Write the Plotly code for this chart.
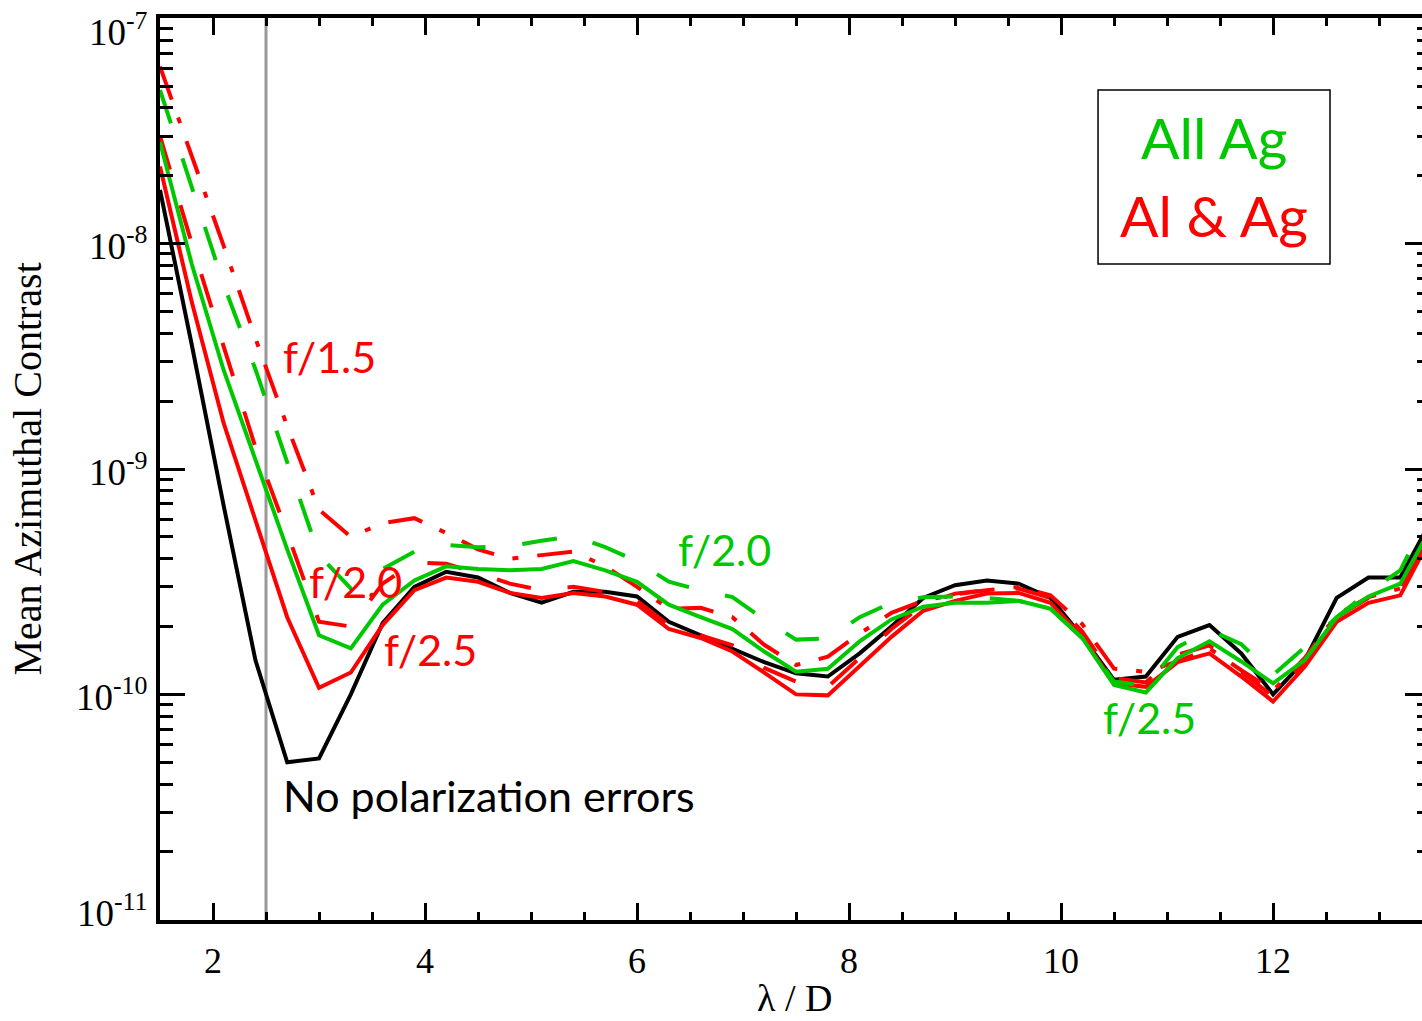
import plotly.graph_objects as go

# ---------------- data ----------------
lam_d = [1.5, 1.8, 2.1, 2.4, 2.7, 3.0, 3.3, 3.6, 3.9, 4.2,
         4.5, 4.8, 5.1, 5.4, 5.7, 6.0, 6.3, 6.6, 6.9, 7.2,
         7.5, 7.8, 8.1, 8.4, 8.7, 9.0, 9.3, 9.6, 9.9, 10.2,
         10.5, 10.8, 11.1, 11.4, 11.7, 12.0, 12.3, 12.6, 12.9, 13.2, 13.5]

no_pol = [1.73e-8, 3.55e-9, 6.9e-10, 1.42e-10, 5.0e-11, 5.2e-11, 1.0e-10, 2.07e-10, 3.0e-10, 3.5e-10,
          3.3e-10, 2.82e-10, 2.55e-10, 2.85e-10, 2.85e-10, 2.72e-10, 2.1e-10, 1.83e-10, 1.58e-10, 1.39e-10,
          1.24e-10, 1.2e-10, 1.52e-10, 2.0e-10, 2.68e-10, 3.05e-10, 3.2e-10, 3.1e-10, 2.68e-10, 1.8e-10,
          1.16e-10, 1.2e-10, 1.8e-10, 2.03e-10, 1.52e-10, 1.0e-10, 1.42e-10, 2.68e-10, 3.3e-10, 3.3e-10, 6.0e-10]

alag_f25 = [2.2e-8, 5.5e-9, 1.6e-9, 5.9e-10, 2.2e-10, 1.07e-10, 1.25e-10, 2.03e-10, 2.9e-10, 3.3e-10,
            3.16e-10, 2.82e-10, 2.68e-10, 2.82e-10, 2.72e-10, 2.5e-10, 1.95e-10, 1.78e-10, 1.55e-10, 1.25e-10,
            1.0e-10, 9.9e-11, 1.33e-10, 1.8e-10, 2.35e-10, 2.6e-10, 2.8e-10, 2.82e-10, 2.55e-10, 1.8e-10,
            1.12e-10, 1.08e-10, 1.39e-10, 1.52e-10, 1.2e-10, 9.3e-11, 1.33e-10, 2.1e-10, 2.55e-10, 2.75e-10, 5.1e-10]

alag_f20 = [3.0e-8, 1.0e-8, 3.5e-9, 1.25e-9, 5.2e-10, 2.1e-10, 2.0e-10, 3.1e-10, 3.85e-10, 3.8e-10,
            3.45e-10, 3.1e-10, 2.9e-10, 3.0e-10, 2.85e-10, 2.6e-10, 2.03e-10, 1.83e-10, 1.65e-10, 1.31e-10,
            1.14e-10, 1.08e-10, 1.45e-10, 1.95e-10, 2.5e-10, 2.8e-10, 2.9e-10, 2.95e-10, 2.68e-10, 1.9e-10,
            1.18e-10, 1.13e-10, 1.5e-10, 1.65e-10, 1.26e-10, 9.8e-11, 1.4e-10, 2.2e-10, 2.68e-10, 2.9e-10, 5.4e-10]

alag_f15 = [6.1e-8, 2.45e-8, 9.8e-9, 3.8e-9, 1.55e-9, 6.6e-10, 5.0e-10, 5.75e-10, 6.05e-10, 5.2e-10,
            4.4e-10, 4.0e-10, 4.15e-10, 4.3e-10, 3.7e-10, 3.0e-10, 2.4e-10, 2.42e-10, 2.2e-10, 1.66e-10,
            1.35e-10, 1.47e-10, 1.86e-10, 2.3e-10, 2.6e-10, 2.78e-10, 2.9e-10, 3.0e-10, 2.75e-10, 2.05e-10,
            1.3e-10, 1.26e-10, 1.4e-10, 1.6e-10, 1.28e-10, 1.04e-10, 1.45e-10, 2.25e-10, 2.7e-10, 2.95e-10, 5.5e-10]

allag_f25 = [2.82e-8, 8.1e-9, 2.75e-9, 1.1e-9, 4.4e-10, 1.83e-10, 1.6e-10, 2.5e-10, 3.2e-10, 3.7e-10,
             3.6e-10, 3.55e-10, 3.6e-10, 3.9e-10, 3.55e-10, 3.16e-10, 2.5e-10, 2.2e-10, 1.95e-10, 1.55e-10,
             1.26e-10, 1.3e-10, 1.72e-10, 2.15e-10, 2.45e-10, 2.55e-10, 2.55e-10, 2.6e-10, 2.4e-10, 1.78e-10,
             1.1e-10, 1.02e-10, 1.45e-10, 1.72e-10, 1.4e-10, 1.12e-10, 1.42e-10, 2.2e-10, 2.72e-10, 3.1e-10, 5.6e-10]

allag_f20 = [4.8e-8, 1.78e-8, 6.6e-9, 2.77e-9, 1.07e-9, 4.15e-10, 2.95e-10, 3.6e-10, 4.3e-10, 4.6e-10,
             4.5e-10, 4.55e-10, 4.8e-10, 5.05e-10, 4.5e-10, 3.9e-10, 3.16e-10, 2.9e-10, 2.7e-10, 2.15e-10,
             1.75e-10, 1.77e-10, 2.2e-10, 2.55e-10, 2.7e-10, 2.72e-10, 2.68e-10, 2.6e-10, 2.4e-10, 1.78e-10,
             1.14e-10, 1.09e-10, 1.62e-10, 1.93e-10, 1.67e-10, 1.22e-10, 1.62e-10, 2.2e-10, 2.85e-10, 3.55e-10, 6.8e-10]

iwa = 2.5  # inner working angle marker (lambda/D)

y_tick_exponents = [-11, -10, -9, -8, -7]
y_tick_labels = ["10<sup>-11</sup>", "10<sup>-10</sup>", "10<sup>-9</sup>", "10<sup>-8</sup>", "10<sup>-7</sup>"]

x_range = [1.5, 13.405]
y_range_log = [-11.001, -6.999]

# ---------------- styles ----------------
RED = "rgb(255,0,0)"
GREEN = "rgb(0,200,0)"
BLACK = "rgb(0,0,0)"
LW = 4
DASHED = "35px,37px"
DASHDOT = "35px,19px,6px,19px"

fig = go.Figure()

series = [
    ("No polarization errors", no_pol, BLACK, "solid"),
    ("Al & Ag f/1.5", alag_f15, RED, DASHDOT),
    ("Al & Ag f/2.0", alag_f20, RED, DASHED),
    ("Al & Ag f/2.5", alag_f25, RED, "solid"),
    ("All Ag f/2.0", allag_f20, GREEN, DASHED),
    ("All Ag f/2.5", allag_f25, GREEN, "solid"),
]
for name, vals, col, dash in series:
    fig.add_trace(go.Scatter(x=lam_d, y=vals, mode="lines", name=name,
                             line=dict(color=col, width=LW, dash=dash),
                             showlegend=False, hoverinfo="skip"))

# empty trace to activate the mirrored (top/right) axes
fig.add_trace(go.Scatter(x=[], y=[], xaxis="x2", yaxis="y2", showlegend=False, hoverinfo="skip"))

fig.add_vline(x=iwa, line=dict(color="rgb(153,153,153)", width=3), layer="below")

tick_font = dict(family="Liberation Serif", size=36, color="black")

fig.update_layout(
    template="none",
    width=1422, height=1021,
    margin=dict(l=160, r=0, t=18, b=101, autoexpand=False),
    paper_bgcolor="white", plot_bgcolor="white",
    xaxis=dict(range=x_range, showgrid=False, zeroline=False, automargin=False,
               showline=True, linecolor="black", linewidth=4,
               ticks="inside", ticklen=17, tickwidth=3, tickcolor="black",
               tickmode="linear", tick0=0, dtick=2,
               minor=dict(ticks="inside", ticklen=8, tickwidth=3, tickcolor="black", dtick=0.5, showgrid=False),
               tickfont=tick_font, ticklabelstandoff=6),
    xaxis2=dict(range=x_range, overlaying="x", side="top", showgrid=False, zeroline=False, automargin=False,
                showline=True, linecolor="black", linewidth=4,
                ticks="inside", ticklen=17, tickwidth=3, tickcolor="black",
                tickmode="linear", tick0=0, dtick=2, showticklabels=False,
                minor=dict(ticks="inside", ticklen=8, tickwidth=3, tickcolor="black", dtick=0.5, showgrid=False)),
    yaxis=dict(type="log", range=y_range_log, showgrid=False, zeroline=False, automargin=False,
               showline=True, linecolor="black", linewidth=4,
               ticks="inside", ticklen=25, tickwidth=3, tickcolor="black",
               tickmode="linear", tick0=0, dtick=1, showticklabels=False,
               minor=dict(ticks="inside", ticklen=13, tickwidth=3, tickcolor="black", dtick="D1", showgrid=False)),
    yaxis2=dict(type="log", range=y_range_log, overlaying="y", side="right", anchor="x", automargin=False,
                showgrid=False, zeroline=False, showline=False,
                ticks="inside", ticklen=17, tickwidth=3, tickcolor="black",
                tickmode="linear", tick0=0, dtick=1, showticklabels=False,
                minor=dict(ticks="inside", ticklen=5, tickwidth=3, tickcolor="black", dtick="D1", showgrid=False)),
)

# y tick labels (kept inside the figure at the range ends, like the original)
for exp_, txt in zip(y_tick_exponents, y_tick_labels):
    shift = -11 if exp_ == max(y_tick_exponents) else (9 if exp_ == min(y_tick_exponents) else 0)
    fig.add_annotation(text=txt, xref="paper", x=0, yref="y", y=exp_, xanchor="right", yanchor="middle",
                       xshift=-10, yshift=shift, showarrow=False,
                       font=dict(family="Liberation Serif", size=37, color="black"))

LABEL_FONT = "Lato"
def label(text, x, ylog, color, size=43, xanchor="left"):
    fig.add_annotation(text=text, x=x, y=ylog, xref="x", yref="y", showarrow=False,
                       xanchor=xanchor, yanchor="middle",
                       font=dict(family=LABEL_FONT, size=size, color=color))

label("f/1.5", 2.64, -8.503, RED)
label("f/2.0", 2.89, -9.501, RED)
label("f/2.5", 3.59, -9.803, RED)
label("No polarization errors", 2.64, -10.45, BLACK)
label("f/2.0", 6.37, -9.359, GREEN)
label("f/2.5", 10.38, -10.104, GREEN)

# legend-like box
fig.add_shape(type="rect", xref="paper", yref="paper", x0=0.7433, x1=0.9271, y0=0.7273, y1=0.9202,
              line=dict(color="black", width=1.5), fillcolor="rgba(0,0,0,0)")
fig.add_annotation(text="All Ag", xref="paper", yref="paper", x=0.8352, y=0.8685, showarrow=False,
                   xanchor="center", yanchor="middle", font=dict(family=LABEL_FONT, size=57, color=GREEN))
fig.add_annotation(text="Al &amp; Ag", xref="paper", yref="paper", x=0.8352, y=0.7816, showarrow=False,
                   xanchor="center", yanchor="middle", font=dict(family=LABEL_FONT, size=57, color=RED))

# axis titles
fig.add_annotation(text="Mean Azimuthal Contrast", xref="paper", yref="paper", x=-0.105, y=0.5,
                   showarrow=False, textangle=-90, xanchor="center", yanchor="middle",
                   font=dict(family="Liberation Serif", size=40, color="black"))
fig.add_annotation(text="λ / D", xref="paper", yref="paper", x=0.503, y=-0.087,
                   showarrow=False, xanchor="center", yanchor="middle",
                   font=dict(family="Liberation Serif", size=38, color="black"))

fig.write_html("out.html", config={"displayModeBar": False},
               post_script="document.body.style.margin='0px';")
